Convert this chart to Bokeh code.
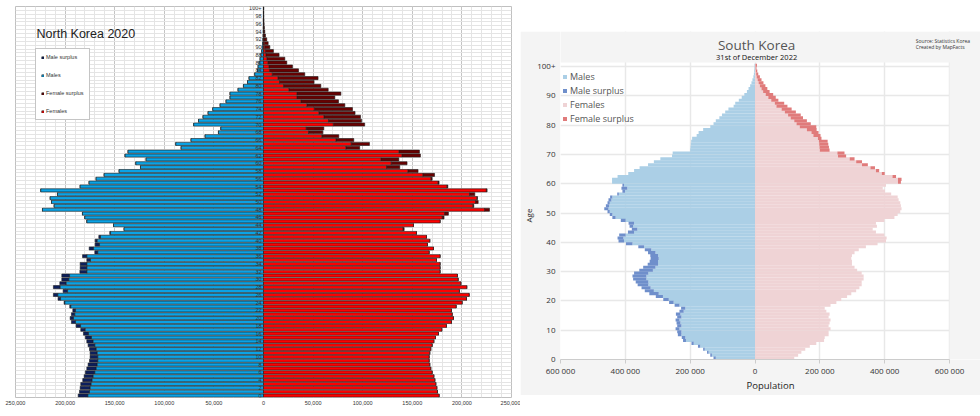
from bokeh.plotting import figure
from bokeh.models import (Range1d, FixedTicker, CustomJSTickFormatter, Legend, LegendItem,
                          Label, ColumnDataSource, Spacer)
from bokeh.layouts import row, column
from bokeh.embed import file_html
from bokeh.resources import INLINE
from bokeh.core.properties import value

# ---------------- data ----------------
ages = list(range(101))  # 0 .. 100+

# North Korea 2020, population by single year of age (thousands)
nk_male = [186.8, 185.5, 184.8, 184.2, 182.2, 180.8, 179.5, 178.1, 176.8, 175.4,
           174.8, 174.8, 175.4, 176.8, 178.1, 179.5, 181.5, 184.2, 188.9, 193.6,
           194.9, 193.6, 192.2, 195.3, 201.0, 207.1, 211.8, 202.0, 211.8, 205.3,
           203.3, 203.3, 185.1, 184.8, 184.8, 178.1, 182.4, 170.0, 175.7, 169.7,
           169.7, 166.0, 155.0, 140.5, 151.2, 178.1, 180.1, 182.5, 222.8, 211.0,
           213.7, 215.0, 207.7, 224.5, 184.8, 175.8, 168.7, 160.6, 145.5, 124.0,
           128.7, 118.3, 139.5, 136.5, 83.0, 88.4, 73.0, 58.8, 45.4, 43.0,
           70.3, 65.5, 60.9, 55.8, 51.1, 43.7, 37.7, 33.7, 33.7, 25.6,
           20.2, 16.1, 14.5, 8.8, 6.0, 5.4, 4.4, 3.4, 2.5, 1.8,
           1.2, 0.8, 0.5, 0.3, 0.2, 0.15, 0.1, 0.1, 0.05, 0.05, 0.05]
nk_female = [177.0, 175.4, 174.7, 173.7, 172.7, 171.7, 170.0, 168.6, 167.6, 167.0,
             167.0, 167.6, 168.6, 170.0, 171.7, 173.4, 176.4, 179.7, 184.4, 189.5,
             191.5, 190.2, 189.5, 194.2, 200.2, 204.6, 207.3, 197.5, 204.9, 198.9,
             196.2, 195.5, 178.0, 178.0, 178.0, 174.4, 178.0, 167.0, 171.3, 165.3,
             167.6, 164.3, 154.2, 141.8, 151.2, 178.0, 182.0, 186.4, 227.8, 212.0,
             216.4, 215.7, 213.0, 225.4, 185.8, 177.0, 170.0, 172.4, 155.8, 137.4,
             144.7, 136.4, 158.2, 157.2, 97.0, 106.8, 91.0, 75.9, 59.8, 60.8,
             102.0, 98.8, 97.8, 92.3, 89.7, 82.0, 75.6, 71.9, 78.0, 65.2,
             57.8, 51.0, 55.0, 41.6, 35.3, 29.2, 23.5, 21.5, 15.7, 10.0,
             6.4, 4.7, 3.3, 2.0, 1.3, 0.9, 0.6, 0.4, 0.3, 0.2, 0.2]

# South Korea, 31 Dec 2022 (thousands)
sk_male = [128, 138, 148, 160, 176, 196, 222, 226, 238, 240,
           245, 240, 242, 245, 240, 244, 233, 228, 248, 265,
           283, 306, 326, 340, 350, 362, 368, 376, 378, 373,
           357, 345, 331, 325, 322, 323, 330, 340, 360, 398,
           421, 424, 419, 392, 380, 387, 390, 414, 440, 448,
           455, 465, 460, 455, 452, 447, 425, 409, 412, 409,
           441, 441, 424, 391, 373, 356, 330, 312, 292, 256,
           254, 200, 199, 198, 197, 194, 180, 174, 160, 138,
           128, 121, 110, 102, 92, 82, 66, 61, 50, 41,
           33, 25, 20, 15, 11, 8, 5, 3.5, 2.5, 1.8, 1.5]
sk_female = [121, 133, 143, 155, 169, 189, 213, 215, 227, 227,
             233, 227, 230, 233, 227, 230, 220, 215, 233, 251,
             266, 284, 297, 312, 322, 329, 329, 335, 335, 329,
             315, 307, 299, 299, 297, 299, 307, 320, 342, 378,
             404, 406, 399, 373, 363, 376, 373, 399, 430, 440,
             448, 452, 450, 448, 443, 440, 420, 401, 394, 404,
             450, 452, 435, 400, 383, 370, 348, 330, 307, 281,
             276, 230, 228, 226, 224, 205, 202, 196, 190, 189,
             172, 160, 148, 141, 126, 113, 100, 90, 72, 64,
             56, 45, 38, 32, 26, 20, 15, 10, 7, 4.5, 6]

nk_age_ticks = list(range(0, 100, 2)) + [100]
nk_age_labels = [str(a) for a in range(0, 100, 2)] + ["100+"]
nk_x_ticks = [-250000, -200000, -150000, -100000, -50000, 0, 50000, 100000, 150000, 200000, 250000]
nk_x_minor = list(range(-250000, 250001, 10000))
sk_x_ticks = [-600000, -400000, -200000, 0, 200000, 400000, 600000]
sk_y_ticks = [0, 10, 20, 30, 40, 50, 60, 70, 80, 90, 100]

# ---------------- North Korea ----------------
NK_FONT = "Liberation Sans"
nm = [v * 1000 for v in nk_male]
nf = [v * 1000 for v in nk_female]
nk_src = ColumnDataSource(dict(
    age=ages,
    m_out=[-m for m in nm],
    m_core=[-min(m, f) for m, f in zip(nm, nf)],
    f_core=[min(m, f) for m, f in zip(nm, nf)],
    f_out=nf,
    zero=[0] * len(ages),
))

p1 = figure(width=520, height=416, frame_width=496, frame_height=391,
            min_border_left=15, min_border_right=9, min_border_top=6, min_border_bottom=19,
            x_range=Range1d(-250000, 250000), y_range=Range1d(-0.5, 100.5),
            y_axis_location=None, output_backend="svg", toolbar_location=None,
            background_fill_color="white", border_fill_color="white")
p1.outline_line_color = "#c0c0c0"
p1.xgrid.ticker = FixedTicker(ticks=nk_x_ticks, minor_ticks=nk_x_minor)
p1.xgrid.grid_line_color = "#c4c4c4"
p1.xgrid.minor_grid_line_color = "#e4e4e4"
p1.ygrid.ticker = FixedTicker(ticks=[a - 0.5 for a in ages] + [100.5])
p1.ygrid.grid_line_color = "#e4e4e4"

OUT = "#1c1c1c"
r_ms = p1.hbar(y="age", left="m_out", right="m_core", height=0.8, source=nk_src,
               fill_color="#0c1f5e", line_color=OUT, line_width=0.6)
r_mb = p1.hbar(y="age", left="m_core", right="zero", height=0.8, source=nk_src,
               fill_color="#0aa3e6", line_color=OUT, line_width=0.6)
r_fs = p1.hbar(y="age", left="f_core", right="f_out", height=0.8, source=nk_src,
               fill_color="#6a0000", line_color=OUT, line_width=0.6)
r_fb = p1.hbar(y="age", left="zero", right="f_core", height=0.8, source=nk_src,
               fill_color="#ff0000", line_color=OUT, line_width=0.6)

p1.text(x=[0] * len(nk_age_ticks), y=nk_age_ticks, text=nk_age_labels,
        x_offset=-2, text_align="right", text_baseline="middle",
        text_font_size="5.5px", text_color="#333333", text_font=value(NK_FONT))

ax = p1.xaxis[0]
ax.ticker = FixedTicker(ticks=nk_x_ticks)
ax.formatter = CustomJSTickFormatter(code="return Math.abs(tick).toLocaleString('en-US');")
ax.major_label_text_font = NK_FONT
ax.major_label_text_font_size = "5.5px"
ax.major_label_text_color = "#333333"
ax.axis_line_color = None
ax.major_tick_line_color = None
ax.minor_tick_line_color = None
ax.major_tick_out = 0
ax.major_tick_in = 0
ax.minor_tick_out = 0
ax.major_label_standoff = 3

p1.add_layout(Label(x=-228800, y=93.3, text="North Korea 2020", text_font=NK_FONT,
                    text_font_size="12.5px", text_color="#222222", text_baseline="middle"))

leg1 = Legend(items=[LegendItem(label="Male surplus", renderers=[r_ms]),
                     LegendItem(label="Males", renderers=[r_mb]),
                     LegendItem(label="Female surplus", renderers=[r_fs]),
                     LegendItem(label="Females", renderers=[r_fb])],
              location=(20, 277), glyph_width=3, glyph_height=3, label_height=6,
              label_text_font=NK_FONT, label_text_font_size="5.5px", label_text_color="#333333",
              spacing=12, padding=5, margin=0, label_standoff=2,
              border_line_color="#8c8c8c", border_line_width=1,
              background_fill_color="white", background_fill_alpha=1.0)
p1.add_layout(leg1)

# ---------------- South Korea ----------------
# The frame spans the whole gray panel above and to the right of the plot area;
# those margins are painted gray so that the titles can live inside the frame.
SK_FONT = "Open Sans"
GRAY = "#f4f4f4"
X_MIN, X_MAX = -600000, 600000   # plot area
X_PAD = 695500                   # frame extends to the panel's right edge
Y_TOP_PLOT = 101.4
Y_TOP = 112.0                    # frame extends to the panel's top edge

sm = [v * 1000 for v in sk_male]
sf = [v * 1000 for v in sk_female]
sk_src = ColumnDataSource(dict(
    yc=[a + 0.5 for a in ages],
    m_out=[-m for m in sm],
    m_core=[-min(m, f) for m, f in zip(sm, sf)],
    f_core=[min(m, f) for m, f in zip(sm, sf)],
    f_out=sf,
    zero=[0] * len(ages),
))

p2 = figure(width=460, height=364,
            min_border_left=37, min_border_right=0, min_border_top=0, min_border_bottom=36,
            x_range=Range1d(X_MIN, X_PAD), y_range=Range1d(0, Y_TOP),
            output_backend="svg", toolbar_location=None,
            background_fill_color="white", border_fill_color=GRAY)
p2.outline_line_color = None
p2.xgrid.ticker = FixedTicker(ticks=sk_x_ticks)
p2.ygrid.ticker = FixedTicker(ticks=sk_y_ticks)
p2.grid.grid_line_color = "#e8e8e8"
p2.grid.grid_line_width = 1.5

BH = 1.06
s_mb = p2.hbar(y="yc", left="m_core", right="zero", height=BH, source=sk_src,
               fill_color="#abcfe6", line_color=None)
s_ms = p2.hbar(y="yc", left="m_out", right="m_core", height=BH, source=sk_src,
               fill_color="#6f8fcb", line_color=None)
s_fb = p2.hbar(y="yc", left="zero", right="f_core", height=BH, source=sk_src,
               fill_color="#efd3d5", line_color=None)
s_fs = p2.hbar(y="yc", left="f_core", right="f_out", height=BH, source=sk_src,
               fill_color="#e07b7b", line_color=None)

# gray panel margins inside the frame (top strip and right strip)
p2.quad(left=[X_MIN, X_MAX], right=[X_PAD, X_PAD], bottom=[Y_TOP_PLOT, 0], top=[Y_TOP, Y_TOP],
        fill_color=GRAY, line_color=None)

xa = p2.xaxis[0]
xa.bounds = (X_MIN, X_MAX)
xa.ticker = FixedTicker(ticks=sk_x_ticks)
xa.formatter = CustomJSTickFormatter(
    code="return Math.abs(tick).toLocaleString('en-US').replace(/,/g, ' ');")
xa.axis_label = "Population"
xa.axis_label_text_font = SK_FONT
xa.axis_label_text_font_size = "9.5px"
xa.axis_label_text_font_style = "normal"
xa.axis_label_text_color = "#222222"
xa.axis_label_standoff = 0
xa.major_label_text_font = SK_FONT
xa.major_label_text_font_size = "8px"
xa.major_label_text_color = "#333333"
xa.major_label_standoff = 1
xa.axis_line_color = "#cccccc"
xa.major_tick_line_color = "#cccccc"
xa.major_tick_in = 0
xa.major_tick_out = 4
xa.minor_tick_line_color = None
xa.minor_tick_out = 0

ya = p2.yaxis[0]
ya.bounds = (0, Y_TOP_PLOT)
ya.ticker = FixedTicker(ticks=sk_y_ticks)
ya.major_label_overrides = {100: "100+"}
# em spaces after the word keep the rotated label centred on the plot area
# (the frame itself reaches up into the title strip)
ya.axis_label = "Age" + "\u2003" * 5
ya.axis_label_text_font = SK_FONT
ya.axis_label_text_font_size = "8px"
ya.axis_label_text_font_style = "normal"
ya.axis_label_text_color = "#222222"
ya.axis_label_standoff = 0
ya.major_label_text_font = SK_FONT
ya.major_label_text_font_size = "8px"
ya.major_label_text_color = "#333333"
ya.major_label_standoff = 5
ya.axis_line_color = None
ya.major_tick_line_color = None
ya.minor_tick_line_color = None
ya.major_tick_out = 0
ya.major_tick_in = 0
ya.minor_tick_out = 0
ya.minor_tick_in = 0

p2.add_layout(Label(x=5000, y=107.3, text="South Korea", text_font=SK_FONT,
                    text_font_size="13.5px", text_color="#555555",
                    text_align="center", text_baseline="middle"))
p2.add_layout(Label(x=5000, y=103.3, text="31st of December 2022", text_font=SK_FONT,
                    text_font_size="7.5px", text_color="#111111",
                    text_align="center", text_baseline="middle"))
p2.add_layout(Label(x=496000, y=108.7, text="Source: Statistics Korea", text_font=SK_FONT,
                    text_font_size="5px", text_color="#333333", text_baseline="middle"))
p2.add_layout(Label(x=496000, y=106.7, text="Created by MapFacts", text_font=SK_FONT,
                    text_font_size="5px", text_color="#333333", text_baseline="middle"))

leg2 = Legend(items=[LegendItem(label="Males", renderers=[s_mb]),
                     LegendItem(label="Male surplus", renderers=[s_ms]),
                     LegendItem(label="Females", renderers=[s_fb]),
                     LegendItem(label="Female surplus", renderers=[s_fs])],
              location=(2, 234), glyph_width=5, glyph_height=5, label_height=9,
              label_text_font=SK_FONT, label_text_font_size="9px", label_text_color="#555555",
              spacing=1, padding=7, margin=0, label_standoff=3,
              border_line_color=None, background_fill_alpha=0)
p2.add_layout(leg2)

layout = row(p1, column(Spacer(width=460, height=31), p2))

open("out.html", "w").write(file_html(layout, INLINE))
